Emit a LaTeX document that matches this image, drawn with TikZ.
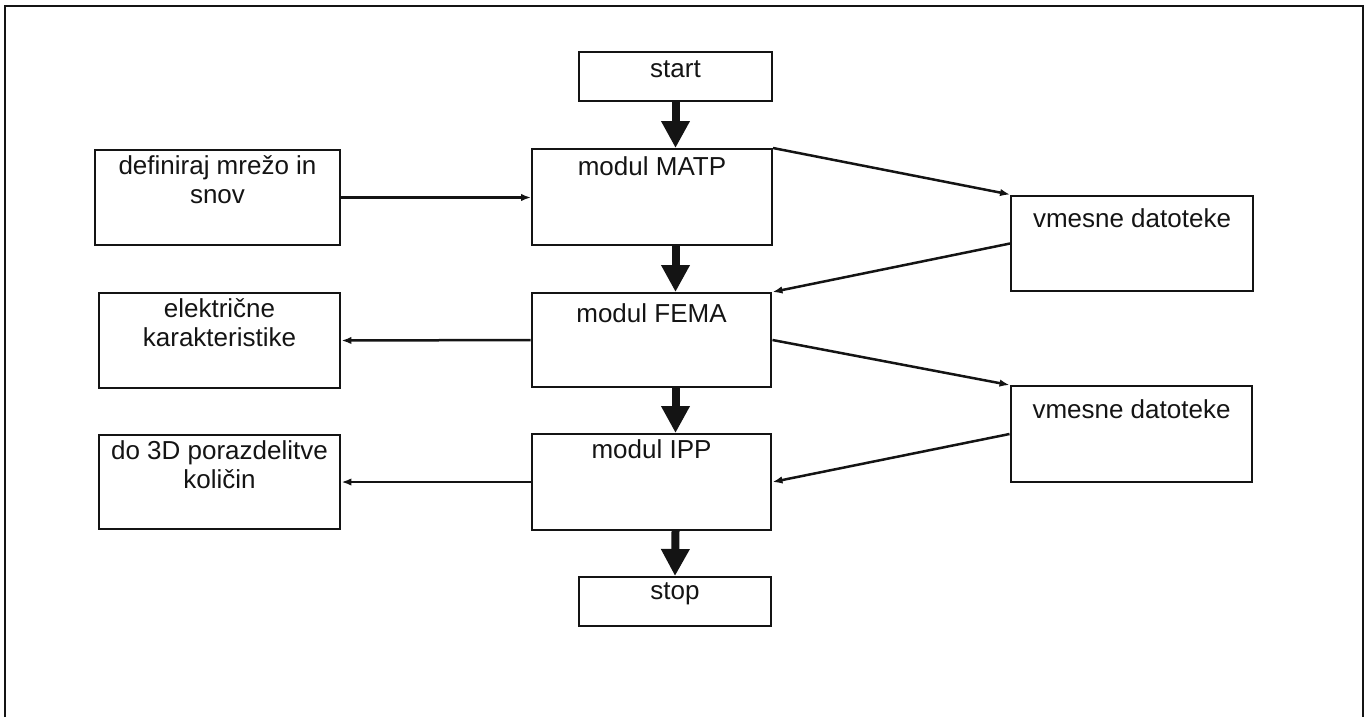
\documentclass[tikz,border=0pt]{standalone}
\usepackage{fontspec}
\setmainfont{Liberation Sans}
\usetikzlibrary{arrows.meta}
\definecolor{ScanBlack}{HTML}{141414}

\begin{document}
\begin{tikzpicture}[x=0.02cm,y=-0.02cm,
  blk/.style={draw=ScanBlack,line width=0.04cm,minimum width=4.8cm,minimum height=1.92cm,inner sep=0pt},
  endblk/.style={blk,minimum width=3.86cm,minimum height=0.98cm},
  sideblk/.style={blk,minimum width=4.84cm},
  txt/.style={anchor=north,inner sep=0.13cm,align=center,font=\fontsize{14.8}{16.6}\selectfont,text=ScanBlack},
  flow/.style={line width=0.16cm,ScanBlack,-{Triangle[length=0.54cm,width=0.54cm]}},
  data/.style={line width=0.05cm,ScanBlack,-{Latex[length=0.2cm,width=0.15cm]}}]
  \useasboundingbox (0,0) rectangle (1368,717);
  % okvir
  \draw[ScanBlack,line width=0.04cm] (5,717) -- (5,6) -- (1363,6) -- (1363,717);
  % glavni moduli
  \node[endblk,label={[txt,yshift=-0.05cm]north:start}] (start) at (675.5,76.5) {};
  \node[blk,label={[txt,yshift=-0.03cm]north:modul MATP}] (matp) at (652,197) {};
  \node[blk,minimum height=1.88cm,label={[txt,yshift=-0.09cm]north:modul FEMA}] (fema) at (651.5,340) {};
  \node[blk,label={[txt]north:modul IPP}] (ipp) at (651.5,482) {};
  \node[endblk,label={[txt]north:stop}] (stop) at (675,601.5) {};
  % vhod in izhodi
  \node[sideblk,minimum width=4.9cm,label={[txt]north:{definiraj mrežo in\\snov}}] (mreza) at (217.5,197.5) {};
  \node[sideblk,minimum height=1.9cm,label={[txt]north:{električne\\karakteristike}}] (elkar) at (219.5,340.5) {};
  \node[sideblk,minimum height=1.88cm,label={[txt]north:{do 3D porazdelitve\\količin}}] (porazd) at (219.5,482) {};
  % vmesne datoteke
  \node[sideblk,label={[txt,yshift=-0.15cm]north:vmesne datoteke}] (vmes1) at (1132,243.5) {};
  \node[sideblk,label={[txt,yshift=-0.15cm]north:vmesne datoteke}] (vmes2) at (1131.5,434) {};
  % tok programa
  \draw[flow] (start.south) -- (start.south |- matp.north);
  \draw[flow] (start.south |- matp.south) -- (start.south |- fema.north);
  \draw[flow] (start.south |- fema.south) -- (start.south |- ipp.north);
  \draw[flow] (start.south |- ipp.south) -- (stop.north);
  % podatki
  \draw[data] (mreza.east) -- (mreza.east -| matp.west);
  \draw[data] (matp.north east) -- (vmes1.north west);
  \draw[data] (vmes1.west) -- (fema.north east);
  \draw[data] (fema.east) -- (vmes2.north west);
  \draw[data] (vmes2.west) -- (ipp.east);
  \draw[data] (fema.west) -- (elkar.east);
  \draw[data] (ipp.west) -- (porazd.east);
\end{tikzpicture}
\end{document}
